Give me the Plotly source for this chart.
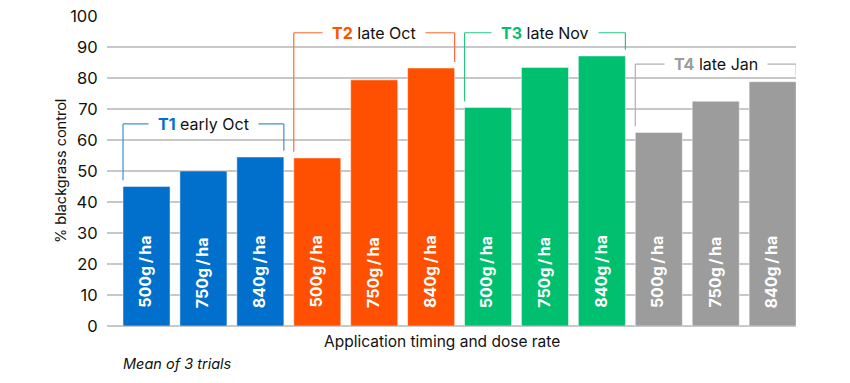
import plotly.graph_objects as go

timings = ["T1", "T2", "T3", "T4"]
timing_desc = ["early Oct", "late Oct", "late Nov", "late Jan"]
doses = ["500g\u2009/\u2009ha", "750g\u2009/\u2009ha", "840g\u2009/\u2009ha"]
values = {
    "T1": [45.0, 50.0, 54.5],
    "T2": [54.2, 79.4, 83.2],
    "T3": [70.5, 83.4, 87.1],
    "T4": [62.4, 72.5, 78.8],
}
bracket_y = {"T1": 65.2, "T2": 94.6, "T3": 94.6, "T4": 84.5}
colors = {"T1": "#0070CC", "T2": "#FF4F00", "T3": "#00BF6F", "T4": "#9C9C9C"}
line_colors = {"T1": "#3D8FDB", "T2": "#FF6A33", "T3": "#26C685", "T4": "#B0B0B0"}
y_ticks = [0, 10, 20, 30, 40, 50, 60, 70, 80, 90, 100]

FONT = "Inter"
half = 0.413

W, H = 850, 383
ML, MR, MT, MB = 107, 54, 16, 57
PW = W - ML - MR
PH = H - MT - MB

fig = go.Figure()
xs, ys, cs, labels = [], [], [], []
for ti, t in enumerate(timings):
    for di, d in enumerate(doses):
        xs.append(ti * 3 + di)
        ys.append(values[t][di])
        cs.append(colors[t])
        labels.append(d)

fig.add_trace(go.Bar(
    x=xs, y=ys, marker=dict(color=cs, line=dict(color="rgba(255,255,255,0.45)", width=1)),
    width=0.826, hoverinfo="skip",
))

annotations = []
shapes = []
for i, (x, lab) in enumerate(zip(xs, labels)):
    annotations.append(dict(
        x=x - 0.03, y=0, xref="x", yref="y", text="<b>" + lab + "</b>", textangle=-90,
        showarrow=False, yanchor="bottom", xanchor="center", yshift=16,
        font=dict(family=FONT, size=16, color="white"),
    ))

gap = 2.0
for ti, t in enumerate(timings):
    x0 = ti * 3 - half
    x1 = ti * 3 + 2 + half
    yb = bracket_y[t]
    lc = line_colors[t]
    shapes.append(dict(type="line", xref="x", yref="y", x0=x0, x1=x1, y0=yb, y1=yb,
                       line=dict(color=lc, width=1.2)))
    shapes.append(dict(type="line", xref="x", yref="y", x0=x0, x1=x0, y0=yb,
                       y1=values[t][0] + gap, line=dict(color=lc, width=1.2)))
    shapes.append(dict(type="line", xref="x", yref="y", x0=x1, x1=x1, y0=yb,
                       y1=values[t][2] + gap, line=dict(color=lc, width=1.2)))
    annotations.append(dict(
        x=ti * 3 + 1, y=yb, xref="x", yref="y",
        text="\u00a0\u00a0<b><span style='color:%s'>%s</span></b> %s\u00a0\u00a0" % (colors[t], t, timing_desc[ti]),
        showarrow=False, xanchor="center", yanchor="middle", bgcolor="white", borderpad=0,
        font=dict(family=FONT, size=16, color="#111111"),
    ))

annotations.append(dict(
    x=(61 - 107) / PW, y=0.5, xref="paper", yref="paper", text="% blackgrass control",
    textangle=-90, showarrow=False, xanchor="center", yanchor="middle",
    font=dict(family=FONT, size=14.5, color="#111111"),
))
annotations.append(dict(
    x=(442 - 107) / PW, y=-15 / PH, xref="paper", yref="paper",
    text="Application timing and dose rate", showarrow=False, xanchor="center", yanchor="middle",
    font=dict(family=FONT, size=15.5, color="#111111"),
))
annotations.append(dict(
    x=(121 - 107) / PW, y=-38 / PH, xref="paper", yref="paper",
    text="<i>Mean of 3 trials</i>", showarrow=False, xanchor="left", yanchor="middle",
    font=dict(family=FONT, size=14.5, color="#111111"),
))

fig.update_layout(
    width=W, height=H,
    margin=dict(l=ML, r=MR, t=MT, b=MB, autoexpand=False),
    plot_bgcolor="white", paper_bgcolor="white",
    showlegend=False,
    annotations=annotations, shapes=shapes,
    xaxis=dict(range=[-0.694, 11.41], showticklabels=False, showgrid=False, zeroline=False,
               ticks="", fixedrange=True, automargin=False),
    yaxis=dict(range=[0, 100], tickvals=y_ticks, showgrid=True, gridcolor="#C8C8C8", gridwidth=2,
               zeroline=True, zerolinecolor="#C8C8C8", zerolinewidth=2, automargin=False,
               ticks="outside", ticklen=5, tickcolor="rgba(0,0,0,0)",
               tickfont=dict(family=FONT, size=16.5, color="#111111")),
)

fig.write_html("out.html", config={"displayModeBar": False},
               post_script="document.body.style.margin='0';")
